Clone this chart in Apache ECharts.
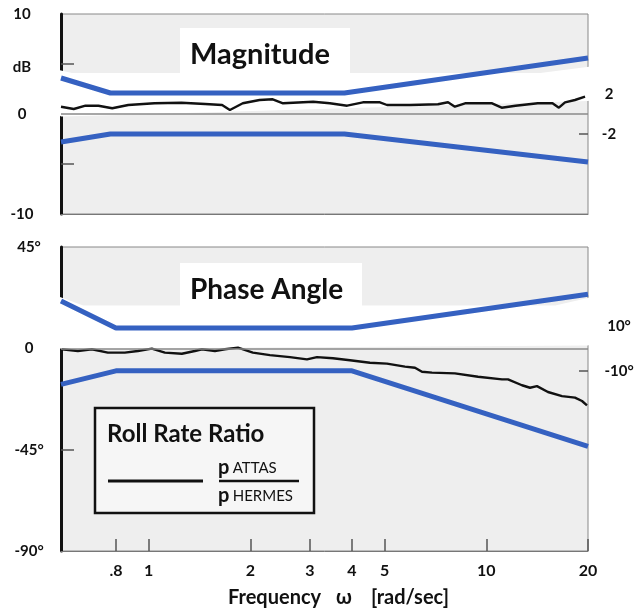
<!DOCTYPE html>
<html><head><meta charset="utf-8">
<script src="https://cdn.jsdelivr.net/npm/echarts@6/dist/echarts.min.js"></script>
<style>html,body{margin:0;padding:0;background:#fff}#c{width:638px;height:611px}</style>
</head><body><div id="c"></div>
<script>
// ---- axis ticks ----
const freqTicks = [0.8, 1, 2, 3, 4, 5, 10, 20];
const freqTickLabels = ['.8', '1', '2', '3', '4', '5', '10', '20'];
const freqMin = 0.55, freqMax = 20;
const magLeftLabels = [-10, 0, 10];
const magLeftTicks = [-5, 5];
const magRightLabels = [-2, 2];
const phaseLeftLabels = [-90, -45, 0, 45];
const phaseLeftTicks = [-45];
const phaseRightLabels = [-10, 10];

// ---- magnitude envelope (dB) ----
const magEnvFreq = [0.55, 0.77, 3.8, 20];
const magUpper = [3.6, 2.1, 2.1, 5.6];
const magLower = [-2.8, -2.0, -2.0, -4.8];

// ---- phase envelope (deg) ----
const phaseEnvFreq = [0.55, 0.8, 4, 20];
const phaseUpper = [21, 9, 9, 24];
const phaseLower = [-16, -10, -10, -43.5];

// ---- roll rate ratio p_ATTAS / p_HERMES ----
const magFreq = [0.55,0.60,0.65,0.71,0.78,0.87,1.04,1.25,1.47,1.65,1.74,1.90,2.13,2.33,2.50,3.07,3.44,3.87,4.31,4.84,5.08,5.94,7.19,7.70,8.07,8.65,10.4,11.1,12.2,14.2,15.7,16.4,17.1,18.3,19.6];
const magRatio = [0.73,0.5,0.83,0.83,0.57,0.9,1.07,1.13,1.0,0.9,0.4,1.07,1.4,1.47,1.07,1.23,1.07,0.83,1.17,1.17,0.9,0.9,0.97,1.17,0.73,1.07,1.07,0.63,0.83,1.07,1.07,0.63,1.17,1.4,1.73];
const phaseFreq = [0.553,0.617,0.679,0.757,0.85,0.929,1.022,1.117,1.254,1.37,1.438,1.571,1.682,1.838,2.035,2.286,2.62,2.943,3.15,3.513,3.945,4.521,5.077,5.741,6.147,6.447,6.902,8.07,9.45,11.13,11.59,12.75,13.47,14.12,15.22,16.75,18.3,19.2,19.86];
const phaseRatio = [-0.4,-1.2,-0.4,-1.9,-1.9,-1.2,-0.1,-1.9,-2.4,-1.2,-0.4,-1.2,-0.4,0.3,-1.9,-3.0,-3.9,-4.9,-3.9,-4.4,-5.3,-6.4,-6.8,-8.1,-8.6,-10.4,-10.8,-11.1,-12.6,-13.8,-13.8,-16.4,-17.5,-16.8,-19.4,-21.2,-21.9,-23.4,-25.3];

// ---- build ----
const L = Math.log10;
const pairs = (xs, ys) => xs.map((x, i) => [L(x), ys[i]]);
const FONT = 'Lato';
const BLUE = '#3561c1';
const BG = '#eeeeee';
const labelStyle = {color: '#111', fontWeight: 'bold', fontFamily: FONT, fontSize: 15};
const tickStyle = {color: '#555', width: 1.5};

function xAxisFor(gridIndex, showLabels) {
  return {
    type: 'value', gridIndex: gridIndex, min: L(freqMin), max: L(freqMax),
    splitLine: {show: false},
    axisLine: {show: true, onZero: false, lineStyle: {color: '#777', width: 1}},
    axisTick: {show: showLabels, inside: true, length: 12, lineStyle: tickStyle,
      customValues: freqTicks.map(L)},
    axisLabel: {show: showLabels, margin: 12, ...labelStyle, fontSize: 16,
      customValues: freqTicks.map(L),
      formatter: v => {
        const i = freqTicks.findIndex(f => Math.abs(L(f) - v) < 1e-6);
        return i >= 0 ? freqTickLabels[i] : '';
      }}
  };
}

function bandSeries(x, y, stack, xs, lo, hi) {
  return [
    {type: 'line', xAxisIndex: x, yAxisIndex: y, stack: stack, stackStrategy: 'all',
     data: pairs(xs, lo), symbol: 'none', silent: true, lineStyle: {opacity: 0}, z: 1},
    {type: 'line', xAxisIndex: x, yAxisIndex: y, stack: stack, stackStrategy: 'all',
     data: pairs(xs, hi.map((h, i) => h - lo[i])), symbol: 'none', silent: true,
     lineStyle: {opacity: 0}, areaStyle: {color: '#ffffff', opacity: 1}, z: 1}
  ];
}
function blueLine(x, y, xs, ys) {
  return {type: 'line', xAxisIndex: x, yAxisIndex: y, data: pairs(xs, ys), symbol: 'none',
    silent: true, lineStyle: {color: BLUE, width: 5}, z: 3};
}
function ratioLine(x, y, xs, ys) {
  return {type: 'line', xAxisIndex: x, yAxisIndex: y, data: pairs(xs, ys), symbol: 'none',
    silent: true, lineStyle: {color: '#111', width: 2.4}, z: 4,
    markLine: {silent: true, symbol: 'none', label: {show: false},
      lineStyle: {color: '#8a8a8a', width: 1.5, type: 'solid'}, data: [{yAxis: 0}]}};
}

const chart = echarts.init(document.getElementById('c'), null, {renderer: 'canvas'});
chart.setOption({
  animation: false,
  backgroundColor: '#fff',
  grid: [
    {left: 61, right: 50, top: 14, height: 200, show: true, backgroundColor: BG,
     borderColor: '#888', borderWidth: 1, containLabel: false, outerBoundsMode: 'none'},
    {left: 61, right: 50, top: 247, height: 304, show: true, backgroundColor: BG,
     borderColor: '#888', borderWidth: 1, containLabel: false, outerBoundsMode: 'none'}
  ],
  xAxis: [xAxisFor(0, false), xAxisFor(1, true)],
  yAxis: [
    {type: 'value', gridIndex: 0, min: -10, max: 10, position: 'left', splitLine: {show: false},
     axisLine: {show: true, onZero: false, lineStyle: {color: '#111', width: 3}},
     axisTick: {show: true, inside: true, length: 13, lineStyle: tickStyle, customValues: magLeftTicks},
     axisLabel: {...labelStyle, align: 'center', margin: 39, customValues: magLeftLabels,
       formatter: v => String(v)}},
    {type: 'value', gridIndex: 0, min: -10, max: 10, position: 'right', splitLine: {show: false},
     axisLine: {show: false, onZero: false},
     axisTick: {show: true, inside: true, length: 9, lineStyle: tickStyle, customValues: magRightLabels},
     axisLabel: {...labelStyle, align: 'center', margin: 21, customValues: magRightLabels,
       formatter: v => String(v)}},
    {type: 'value', gridIndex: 1, min: -90, max: 45, position: 'left', splitLine: {show: false},
     axisLine: {show: true, onZero: false, lineStyle: {color: '#111', width: 3}},
     axisTick: {show: true, inside: true, length: 13, lineStyle: tickStyle, customValues: phaseLeftTicks},
     axisLabel: {...labelStyle, align: 'center', margin: 32, customValues: phaseLeftLabels,
       formatter: v => v === 0 ? '0' : v + '°'}},
    {type: 'value', gridIndex: 1, min: -90, max: 45, position: 'right', splitLine: {show: false},
     axisLine: {show: false, onZero: false},
     axisTick: {show: true, inside: true, length: 9, lineStyle: tickStyle, customValues: phaseRightLabels},
     axisLabel: {...labelStyle, align: 'center', margin: 31, customValues: phaseRightLabels,
       formatter: v => v + '°'}}
  ],
  series: [
    ...bandSeries(0, 0, 'mag', magEnvFreq, magLower, magUpper),
    blueLine(0, 0, magEnvFreq, magUpper),
    blueLine(0, 0, magEnvFreq, magLower),
    ratioLine(0, 0, magFreq, magRatio),
    ...bandSeries(1, 2, 'ph', phaseEnvFreq, phaseLower, phaseUpper),
    blueLine(1, 2, phaseEnvFreq, phaseUpper),
    blueLine(1, 2, phaseEnvFreq, phaseLower),
    ratioLine(1, 2, phaseFreq, phaseRatio)
  ],
  graphic: [
    {type: 'rect', shape: {x: 180, y: 28, width: 170, height: 52}, style: {fill: '#ffffff'}, z: 5, silent: true},
    {type: 'text', x: 190, y: 55, z: 6, style: {text: 'Magnitude', font: 'bold 29px Lato', fill: '#111', verticalAlign: 'middle'}},
    {type: 'rect', shape: {x: 180, y: 263, width: 182, height: 50}, style: {fill: '#ffffff'}, z: 5, silent: true},
    {type: 'text', x: 190, y: 290, z: 6, style: {text: 'Phase Angle', font: 'bold 28px Lato', fill: '#111', verticalAlign: 'middle'}},
    {type: 'text', x: 22, y: 67, z: 6, style: {text: 'dB', font: 'bold 15px Lato', fill: '#111', align: 'center', verticalAlign: 'middle'}},
    {type: 'rect', shape: {x: 95, y: 408, width: 219, height: 105}, style: {fill: '#f6f6f6', stroke: '#111', lineWidth: 2.5}, z: 5},
    {type: 'text', x: 107, y: 434, z: 6, style: {text: 'Roll Rate Ratio', font: 'bold 24px Lato', fill: '#111', verticalAlign: 'middle'}},
    {type: 'line', shape: {x1: 108, y1: 481, x2: 203, y2: 481}, style: {stroke: '#111', lineWidth: 3}, z: 6},
    {type: 'line', shape: {x1: 219, y1: 481, x2: 299, y2: 481}, style: {stroke: '#111', lineWidth: 2.5}, z: 6},
    {type: 'text', x: 218, y: 468, z: 6, style: {
      text: '{p|p} {s|ATTAS}', verticalAlign: 'middle',
      rich: {p: {font: 'bold 20px Lato', fill: '#111'}, s: {font: '15px Lato', fill: '#111'}}}},
    {type: 'text', x: 218, y: 496, z: 6, style: {
      text: '{p|p} {s|HERMES}', verticalAlign: 'middle',
      rich: {p: {font: 'bold 20px Lato', fill: '#111'}, s: {font: '15px Lato', fill: '#111'}}}},
    {type: 'text', x: 228, y: 598, z: 6, style: {text: 'Frequency', font: 'bold 20px Lato', fill: '#111', verticalAlign: 'middle'}},
    {type: 'text', x: 336, y: 598, z: 6, style: {text: 'ω', font: 'bold 20px Lato', fill: '#111', verticalAlign: 'middle'}},
    {type: 'text', x: 371, y: 598, z: 6, style: {text: '[rad/sec]', font: 'bold 20px Lato', fill: '#111', verticalAlign: 'middle'}}
  ]
});
</script></body></html>
